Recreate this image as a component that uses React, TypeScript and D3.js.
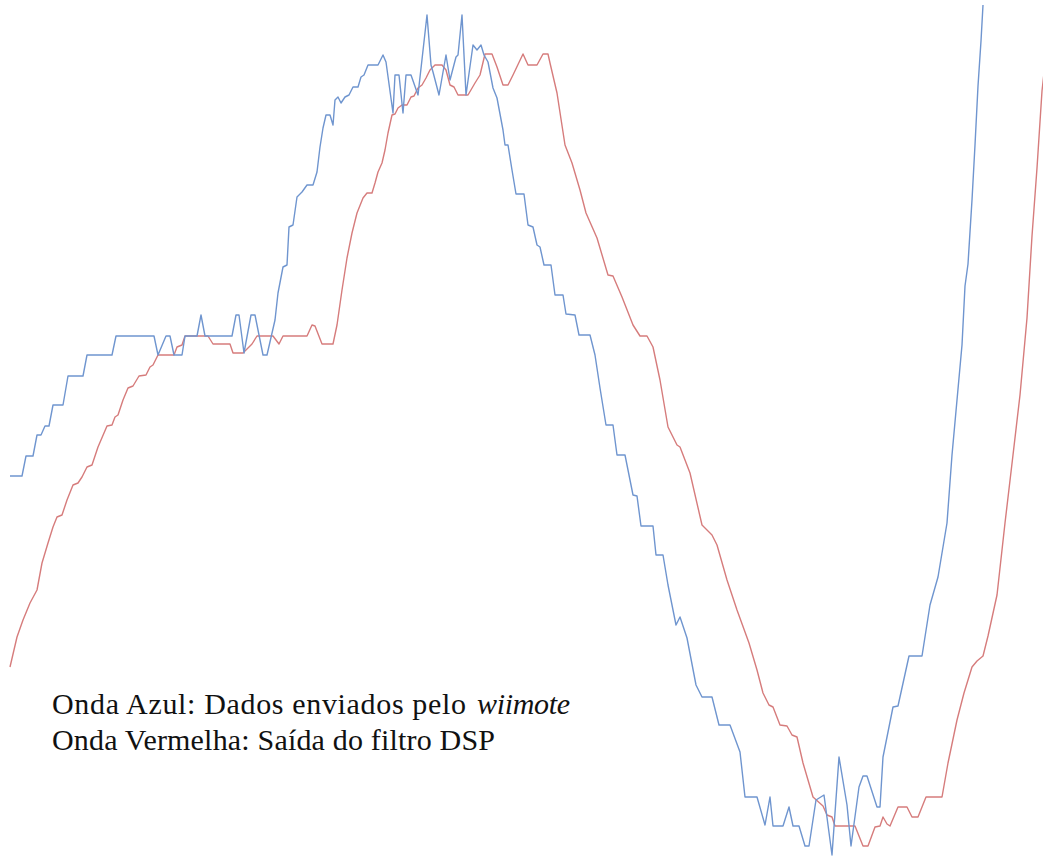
import React from "react";
import * as d3 from "d3";

// Blue wave: raw data sent by the wiimote (sample index, amplitude)
const blueT = [10,22,26,33,37,41,45,49,53,63,68,83,87,112,116,154,158,166,170,174,182,185,197,201,205,232,236,239,244,251,255,263,267,275,278,283,287,289,293,297,302,307,313,317,320,323,326,330,333,335,338,341,345,349,353,358,361,364,368,378,383,386,393,395,399,403,406,411,418,427,431,433,439,446,450,456,458,462,466,473,477,481,484,488,493,497,503,505,508,512,516,524,528,533,537,540,544,551,555,563,566,575,579,590,595,600,606,613,617,625,633,637,641,653,656,663,668,676,680,687,696,702,712,719,730,740,745,757,765,770,773,783,789,793,799,805,809,816,824,832,839,847,851,859,863,867,877,880,883,893,898,909,922,930,938,947,952,957,962,965,968,972,975,978,981,983];
const blueV = [381,381,401,401,422,422,431,431,452,452,481,481,502,502,521,521,502,521,521,502,502,521,521,542,521,521,542,542,504,542,542,502,502,537,564,590,592,630,632,660,665,672,672,685,710,729,742,742,732,757,760,754,760,762,770,770,780,782,792,792,802,795,744,782,782,744,782,782,762,842,792,785,762,802,777,800,802,842,762,812,807,812,802,795,769,759,727,712,712,687,663,663,632,630,612,610,592,592,562,562,543,542,522,522,502,469,432,432,402,402,362,361,331,331,302,302,272,232,240,219,172,160,160,132,132,105,60,60,32,60,31,31,50,31,31,11,11,57,62,2,100,52,11,70,81,81,50,50,100,150,151,201,201,252,280,334,402,457,512,571,593,657,712,771,816,852];

// Red wave: DSP filter output
const redT = [10,17,23,30,37,42,48,53,57,62,67,73,78,82,87,92,98,107,112,115,118,123,128,133,139,146,150,153,158,174,177,182,185,208,213,230,233,243,252,257,273,279,283,307,312,315,322,333,337,342,347,352,357,363,367,372,375,378,382,385,388,392,395,398,402,407,411,414,418,422,426,430,435,442,446,450,454,458,468,475,480,485,492,497,503,508,513,523,528,537,543,548,550,557,565,572,580,586,597,608,613,622,633,640,647,653,660,668,677,680,690,702,712,717,727,737,749,757,763,769,773,780,787,792,797,803,813,823,827,832,835,855,863,868,875,880,883,887,890,898,907,912,918,926,942,948,957,964,972,977,983,988,997,1005,1013,1020,1027,1032,1037,1042,1046];
const redV = [190,220,237,254,267,294,314,330,340,342,357,372,374,380,390,392,410,431,432,440,442,457,469,471,481,482,490,492,502,502,510,512,521,521,513,513,504,504,513,521,521,513,521,521,532,531,513,513,532,567,599,624,644,659,664,664,674,685,694,707,724,742,743,749,752,752,760,761,769,772,779,787,792,792,787,772,770,762,762,774,782,803,803,790,772,772,782,803,792,792,803,803,794,764,712,694,667,644,619,582,581,560,532,521,521,510,477,430,412,410,384,332,322,312,277,247,214,187,164,152,150,132,131,122,120,94,60,51,42,40,31,31,11,11,30,31,40,33,31,50,50,40,40,60,60,94,137,164,190,196,201,221,262,334,402,462,539,621,689,766,802];

const legendLine1 = "Onda Azul: Dados enviados pelo";
const legendItalic = "wiimote";
const legendLine2 = "Onda Vermelha: Saída do filtro DSP";

const W = 1043;
const H = 857;

export default function App() {
  const x = d3.scaleLinear().domain([0, W]).range([0, W]);
  const y = d3.scaleLinear().domain([0, H]).range([H, 0]);
  const line = d3
    .line<[number, number]>()
    .x((d) => x(d[0]))
    .y((d) => y(d[1]));
  const blue = blueT.map((t, i) => [t, blueV[i]] as [number, number]);
  const red = redT.map((t, i) => [t, redV[i]] as [number, number]);
  return (
    <div style={{ position: "absolute", left: 0, top: 0 }}>
      <svg width={W} height={H} style={{ display: "block", background: "#fff" }}>
        <path d={line(red) || ""} fill="none" stroke="#d67c7c" strokeWidth={1.4} strokeLinejoin="round" />
        <path d={line(blue) || ""} fill="none" stroke="#6f95cf" strokeWidth={1.4} strokeLinejoin="round" />
        <g fontFamily="'Liberation Serif', serif" fontSize={30} fill="#111">
          <text x={52} y={714} textLength={414} lengthAdjust="spacing">{legendLine1}</text>
          <text x={477} y={714} fontStyle="italic" textLength={93} lengthAdjust="spacing">{legendItalic}</text>
          <text x={52} y={750} textLength={443} lengthAdjust="spacing">{legendLine2}</text>
        </g>
      </svg>
    </div>
  );
}
